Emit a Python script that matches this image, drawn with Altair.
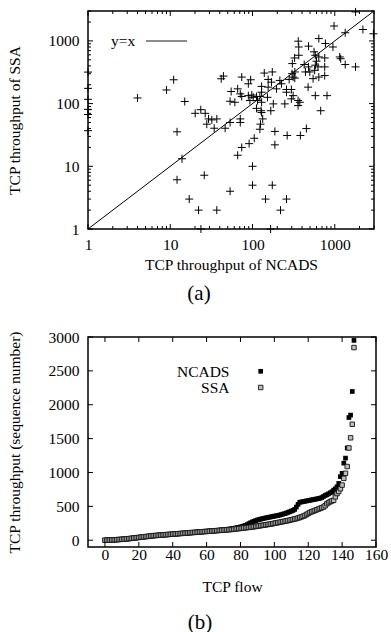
import altair as alt
import pandas as pd

FONT = "Liberation Serif"
FS = 15.5

# ---------------- (a) scatter: TCP throughput NCADS (x) vs SSA (y) ----------------
ncads_tp = [1, 1, 1, 1, 1, 1,
            4, 9, 11, 15, 41.6, 44.3, 55, 53.4, 20.1, 23.5, 26.6, 29.2, 32, 36.8, 27.8, 34.2,
            46.5, 53.4, 12.1, 13.9, 12.1, 25.9, 17, 22.1, 36.8, 53.4, 23.6, 166,
            1790, 980, 1340, 2200, 2950, 640, 360, 365, 480, 770, 950, 560, 580, 640, 755, 365,
            325, 305, 1150, 1180, 1340, 1790, 600, 580, 480, 625, 755, 440, 497, 570, 425, 327,
            303, 755, 640, 545, 139, 174, 74, 95, 89, 155, 170, 215, 225, 279, 312, 327, 129,
            155, 196, 259, 297, 474, 66, 71, 74, 89, 98, 102, 112, 123, 129, 152, 61, 93, 115,
            129, 259, 312, 297, 358, 376, 358, 581, 805, 675, 247, 179, 167, 112, 127, 71, 133,
            71, 66, 74, 91, 105, 123, 125, 129, 187, 187, 264, 382, 452, 100, 100, 174, 144,
            259, 219]
ssa_tp = [318, 175, 117, 81, 67, 37,
          123, 165, 240, 108, 249, 275, 156, 109, 70, 80, 70, 57, 55, 57, 47, 40.5,
          40.5, 50, 35.5, 13.2, 6.1, 7.2, 3, 2, 2, 4, 1, 1,
          2900, 1730, 1350, 1520, 1300, 1090, 990, 800, 825, 910, 800, 670, 590, 555, 535, 590,
          535, 435, 555, 520, 420, 385, 475, 410, 385, 385, 385, 320, 320, 340, 420, 320,
          300, 280, 265, 250, 307, 320, 265, 240, 207, 243, 220, 234, 207, 243, 265, 255, 188,
          183, 172, 168, 168, 183, 172, 143, 130, 134, 137, 126, 130, 130, 152, 126, 105, 112, 112,
          105, 152, 134, 119, 112, 105, 93, 134, 134, 77, 99, 99, 77, 84, 77, 57, 57,
          50, 15, 20, 23, 28, 39, 47, 72, 36, 22, 31, 31, 40, 10, 5, 5, 3,
          3, 2]

ref_xy = [1, 3000]
log_major = [1, 10, 100, 1000]
log_minor = [2, 3, 4, 5, 6, 7, 8, 9, 20, 30, 40, 50, 60, 70, 80, 90,
             200, 300, 400, 500, 600, 700, 800, 900, 2000, 3000]

# ---------------- (b) sorted throughput per TCP flow ----------------
flow_ncads = [0, 1, 2, 3, 4, 5, 6, 8, 10, 12,
              14, 16, 18, 20, 23, 26, 29, 32, 35, 38,
              41, 44, 47, 50, 53, 56, 59, 62, 65, 68,
              70, 72, 74, 76, 78, 80, 82, 84, 86, 88,
              90, 92, 94, 96, 98, 100, 102, 104, 106, 108,
              110, 112, 114, 116, 118, 120, 122, 124, 126, 128,
              130, 132, 134, 136, 138, 140, 142, 145, 148, 151,
              154, 157, 160, 163, 166, 170, 175, 180, 185, 190,
              196, 202, 210, 220, 232, 245, 258, 270, 280, 290,
              298, 305, 312, 318, 324, 330, 335, 340, 345, 350,
              355, 360, 365, 370, 378, 385, 392, 400, 410, 420,
              430, 440, 455, 490, 530, 560, 565, 570, 575, 580,
              585, 590, 595, 600, 605, 610, 614, 620, 630, 645,
              660, 672, 685, 700, 715, 739, 760, 789, 838, 939,
              988, 1138, 1212, 1362, 1811, 1847, 2196, 2950]
flow_ssa = [0, 1, 2, 3, 4, 5, 6, 8, 10, 12,
            14, 16, 18, 20, 23, 26, 29, 32, 35, 38,
            41, 44, 47, 50, 53, 56, 59, 62, 65, 68,
            70, 72, 74, 76, 78, 80, 82, 84, 86, 88,
            90, 92, 94, 96, 98, 100, 102, 104, 106, 108,
            110, 112, 114, 116, 118, 120, 122, 124, 126, 128,
            130, 132, 134, 136, 138, 140, 142, 144, 146, 148,
            150, 152, 154, 156, 158, 160, 163, 166, 169, 172,
            175, 178, 181, 184, 187, 190, 193, 196, 200, 204,
            208, 212, 216, 220, 224, 228, 232, 236, 240, 245,
            250, 255, 260, 265, 270, 275, 280, 285, 290, 296,
            302, 308, 314, 320, 328, 336, 345, 355, 365, 380,
            395, 410, 420, 430, 440, 450, 460, 470, 480, 490,
            510, 539, 555, 570, 580, 590, 640, 689, 720, 760,
            814, 913, 988, 1088, 1362, 1512, 1712, 2844]
flow_xticks = [0, 20, 40, 60, 80, 100, 120, 140, 160]
flow_yticks = [0, 500, 1000, 1500, 2000, 2500, 3000]

PLUS = "M-1,0L1,0M0,-1L0,1"

# ================= panel (a) =================
W1, H1 = 286, 218
xs = alt.Scale(type="log", domain=[1, 3000])
ys = alt.Scale(type="log", domain=[1, 3000])
AX_A = alt.Axis(values=log_major, format="d", title="TCP throughput of NCADS",
                labelPadding=8, titlePadding=5)
AY_A = alt.Axis(values=log_major, format="d", title="TCP throughput of SSA",
                labelPadding=9, titlePadding=26)

df_a = pd.DataFrame({"ncads": ncads_tp, "ssa": ssa_tp})
df_ref = pd.DataFrame({"v": ref_xy})
df_maj = pd.DataFrame({"v": log_major})
df_min = pd.DataFrame({"v": log_minor})

scatter = alt.Chart(df_a).mark_point(
    shape=PLUS, size=64, filled=False, color="black", strokeWidth=1, opacity=1
).encode(
    x=alt.X("ncads:Q", scale=xs, axis=AX_A, title="TCP throughput of NCADS"),
    y=alt.Y("ssa:Q", scale=ys, axis=AY_A, title="TCP throughput of SSA"),
)

diag = alt.Chart(df_ref).mark_line(color="black", strokeWidth=1).encode(
    x=alt.X("v:Q", scale=xs, axis=AX_A, title="TCP throughput of NCADS"),
    y=alt.Y("v:Q", scale=ys, axis=AY_A, title="TCP throughput of SSA"),
)


def tick_layers(dfx, dfy, xscale, yscale, W, H, L, ax, ay, tx, ty):
    bx_ = alt.Chart(dfx).mark_rule(color="black", strokeWidth=1)
    by_ = alt.Chart(dfy).mark_rule(color="black", strokeWidth=1)
    return [
        bx_.encode(x=alt.X("v:Q", scale=xscale, axis=ax, title=tx), y=alt.value(H), y2=alt.value(H - L)),
        bx_.encode(x=alt.X("v:Q", scale=xscale, axis=ax, title=tx), y=alt.value(0), y2=alt.value(L)),
        by_.encode(y=alt.Y("v:Q", scale=yscale, axis=ay, title=ty), x=alt.value(0), x2=alt.value(L)),
        by_.encode(y=alt.Y("v:Q", scale=yscale, axis=ay, title=ty), x=alt.value(W), x2=alt.value(W - L)),
    ]


leg_a_text = alt.Chart(pd.DataFrame({"t": ["y=x"]})).mark_text(
    font=FONT, fontSize=FS, align="left", baseline="middle", color="black"
).encode(text="t:N", x=alt.value(23), y=alt.value(30))
leg_a_line = alt.Chart(pd.DataFrame({"t": ["y=x"]})).mark_rule(
    color="#666666", strokeWidth=1.6
).encode(x=alt.value(58), x2=alt.value(99), y=alt.value(30))

TA = ("TCP throughput of NCADS", "TCP throughput of SSA")
panel_a = alt.layer(
    scatter, diag,
    *tick_layers(df_maj, df_maj, xs, ys, W1, H1, 5, AX_A, AY_A, *TA),
    *tick_layers(df_min, df_min, xs, ys, W1, H1, 3, AX_A, AY_A, *TA),
    leg_a_text, leg_a_line,
).properties(
    width=W1, height=H1,
    title=alt.TitleParams("(a)", orient="bottom", font=FONT, fontSize=21,
                          fontWeight="normal", offset=10, anchor="middle", dx=-32,
                          color="black"),
)

# ================= panel (b) =================
W2, H2 = 288, 210
bx = alt.Scale(domain=[-10, 160], nice=False, zero=False)
by = alt.Scale(domain=[-100, 3000], nice=False, zero=False)
AX_B = alt.Axis(values=flow_xticks, format="d", title="TCP flow", labelPadding=0.5, titlePadding=16)
AY_B = alt.Axis(values=flow_yticks, format="d", title="TCP throughput (sequence number)",
                labelPadding=9, titlePadding=26)
TB = ("TCP flow", "TCP throughput (sequence number)")

df_n = pd.DataFrame({"flow": list(range(len(flow_ncads))), "tp": flow_ncads})
df_s = pd.DataFrame({"flow": list(range(len(flow_ssa))), "tp": flow_ssa})

ncads_pts = alt.Chart(df_n).mark_square(size=22, color="black", opacity=1).encode(
    x=alt.X("flow:Q", scale=bx, axis=AX_B, title=TB[0]),
    y=alt.Y("tp:Q", scale=by, axis=AY_B, title=TB[1]),
)
ssa_pts = alt.Chart(df_s).mark_square(
    size=20, filled=True, fill="#bdbdbd", stroke="#111111", strokeWidth=0.9, opacity=1
).encode(
    x=alt.X("flow:Q", scale=bx, axis=AX_B, title=TB[0]),
    y=alt.Y("tp:Q", scale=by, axis=AY_B, title=TB[1]),
)

df_bx = pd.DataFrame({"v": flow_xticks})
df_by = pd.DataFrame({"v": flow_yticks})
bticks = tick_layers(df_bx, df_by, bx, by, W2, H2, 5, AX_B, AY_B, *TB)

leg_df = pd.DataFrame({"t": ["NCADS"]})
leg_df2 = pd.DataFrame({"t": ["SSA"]})
leg_b = [
    alt.Chart(leg_df).mark_text(font=FONT, fontSize=FS, align="right", baseline="middle",
                                color="black").encode(text="t:N", x=alt.value(141.5), y=alt.value(34.5)),
    alt.Chart(leg_df).mark_square(size=22, color="black", opacity=1).encode(
        x=alt.value(172.7), y=alt.value(34.3)),
    alt.Chart(leg_df2).mark_text(font=FONT, fontSize=FS, align="right", baseline="middle",
                                 color="black").encode(text="t:N", x=alt.value(141.5), y=alt.value(51)),
    alt.Chart(leg_df2).mark_square(size=20, filled=True, fill="#bdbdbd", stroke="#111111",
                                   strokeWidth=0.9, opacity=1).encode(
        x=alt.value(172.7), y=alt.value(50.5)),
]

panel_b = alt.layer(ncads_pts, ssa_pts, *bticks, *leg_b).properties(
    width=W2, height=H2,
    title=alt.TitleParams("(b)", orient="bottom", font=FONT, fontSize=21,
                          fontWeight="normal", offset=17, anchor="middle", dx=-32,
                          color="black"),
)

chart = alt.vconcat(panel_a, panel_b, spacing=24).properties(
    padding={"left": 6, "top": 5, "right": 0, "bottom": 0},
    background="white",
).configure_view(
    stroke="black", strokeWidth=1.5
).configure_axis(
    domain=False, ticks=False, tickSize=0, grid=False, labelFlush=False,
    labelFont=FONT, labelFontSize=FS, labelColor="black",
    titleFont=FONT, titleFontSize=FS, titleFontWeight="normal", titleColor="black",
)

chart.save("out.html", embed_options={"renderer": "svg", "actions": False})
